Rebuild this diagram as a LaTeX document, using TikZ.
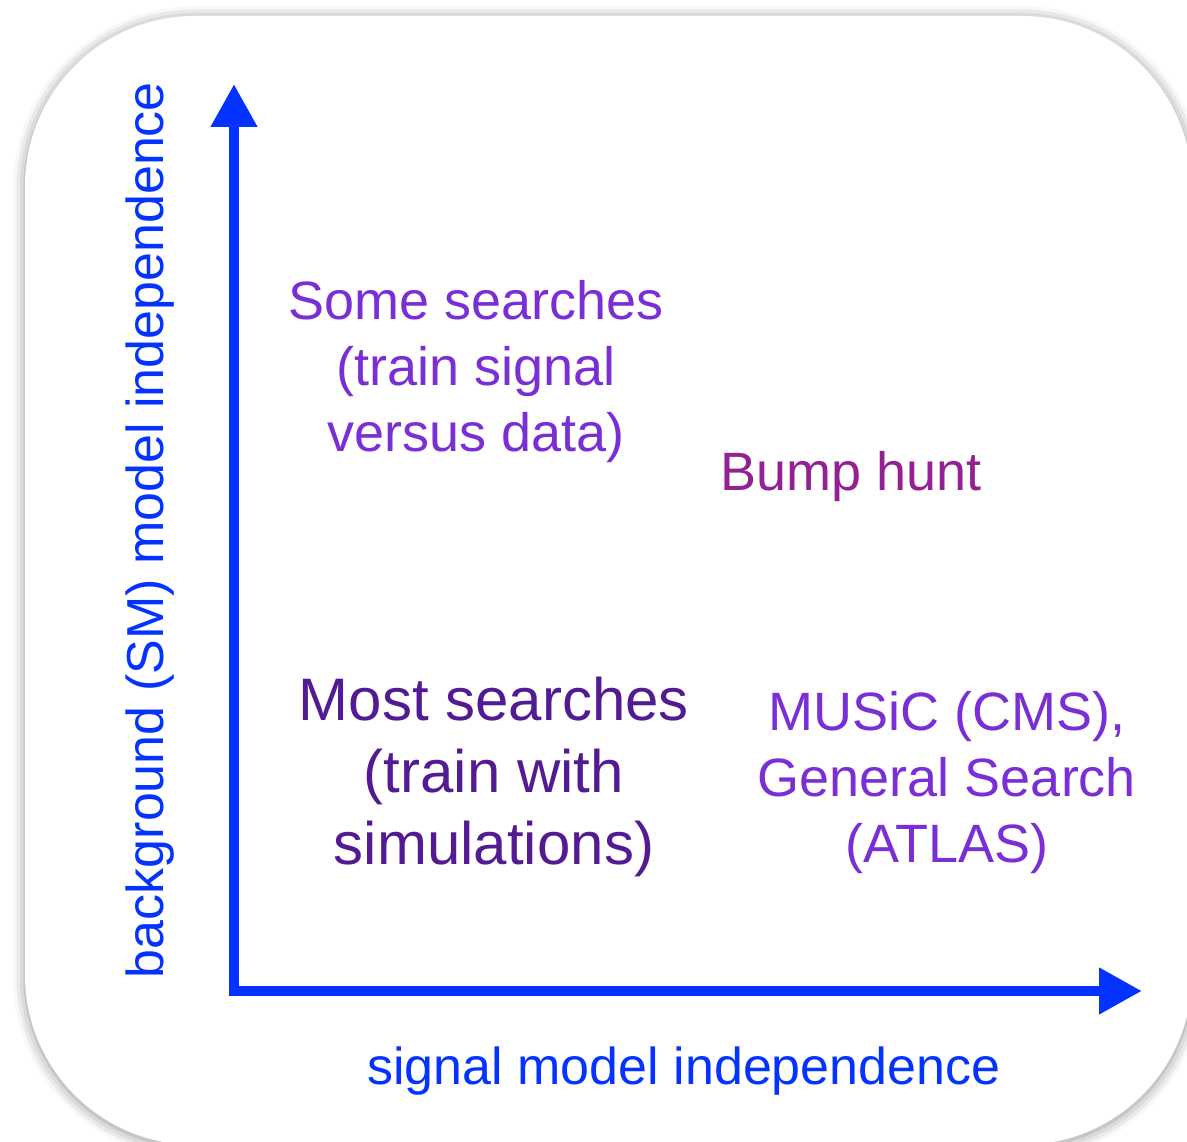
\documentclass[tikz,border=0pt]{standalone}
\usepackage{fontspec}
\setmainfont{Liberation Sans}
\usetikzlibrary{arrows.meta,shadows.blur}
\definecolor{axisblue}{HTML}{0433FF}
\definecolor{lavender}{HTML}{7A2FD6}
\definecolor{grape}{HTML}{531B93}
\definecolor{plum}{HTML}{942193}

\begin{document}
\begin{tikzpicture}[x=1pt,y=1pt,line cap=butt,
  axis/.style={axisblue,line width=10.5pt,line join=miter,
    {Triangle[length=43pt,width=44pt]}-{Triangle[length=43pt,width=44pt]}},
  axislabel/.style={text=axisblue,font=\fontsize{52}{62}\selectfont,inner sep=0pt},
  region/.style={align=center,inner sep=0pt,font=\fontsize{54}{66}\selectfont},
  bigregion/.style={align=center,inner sep=0pt,font=\fontsize{60}{72}\selectfont}]
\useasboundingbox (0,0) rectangle (1187,1142);
% card
\fill[white,rounded corners=170pt,
  blur shadow={shadow xshift=0pt,shadow yshift=-2pt,shadow blur radius=12pt,shadow opacity=45}]
  (25,-3) rectangle (1192,1126);
% axes
\coordinate (origin) at (234,151);
\coordinate (ytip) at (234,1058);
\coordinate (xtip) at (1142,151);
\draw[axis] (ytip) -- (origin) -- (xtip);
\node[axislabel] (xlab) at (684,71) {signal model independence};
\node[axislabel,rotate=90] (ylab) at (150,612) {background (SM) model independence};
% regions
\node[region,text=lavender] (some) at (476,770) {Some searches\\(train signal\\versus data)};
\node[region,text=plum] (bump) at (851,665) {Bump hunt};
\node[bigregion,text=grape] (most) at (494,365) {Most searches\\(train with\\simulations)};
\node[region,text=lavender] (music) at (947,359) {MUSiC (CMS),\\General Search\\(ATLAS)};
\end{tikzpicture}
\end{document}
